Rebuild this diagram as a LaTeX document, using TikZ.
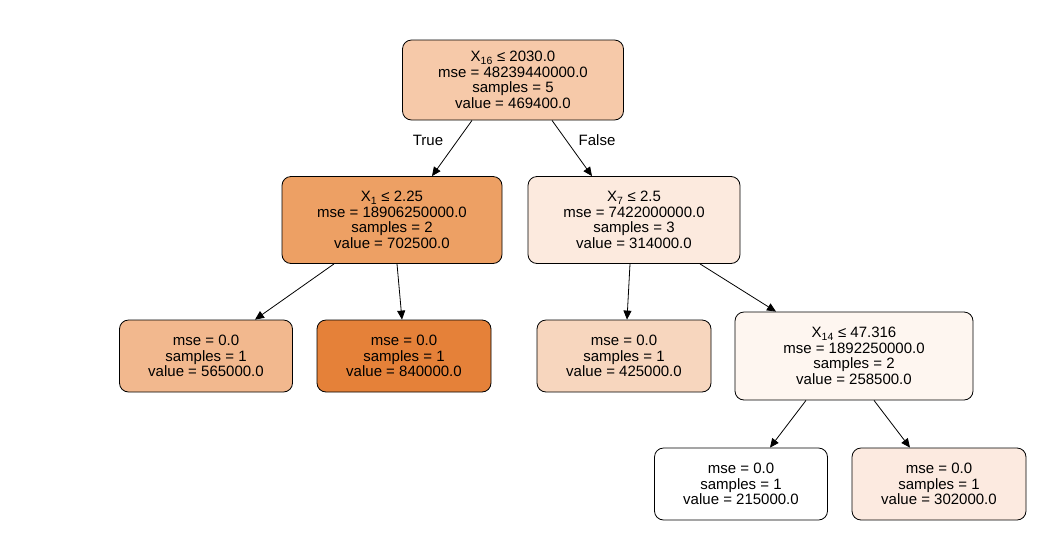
\documentclass[tikz,border=0pt]{standalone}
\usepackage{fontspec}
\usetikzlibrary{arrows.meta}
\setmainfont{Liberation Sans}
\begin{document}
\begin{tikzpicture}[x=1pt,y=-1pt,
  n/.style={draw=black,rounded corners=9pt,line width=0.8pt,align=center,font=\fontsize{15}{15.5}\selectfont,inner sep=0pt,minimum height=#1},
  e/.style={-{Triangle[length=9pt,width=8pt]},line width=0.8pt},
  lab/.style={font=\fontsize{15}{16}\selectfont}]
\useasboundingbox (0,0) rectangle (1045,539);
\node[n=80pt,fill={rgb,255:red,246;green,201;blue,169},minimum width=221pt] (r) at (513,80) {X\textsubscript{16} ≤ 2030.0\\mse = 48239440000.0\\samples = 5\\value = 469400.0};
\node[n=87pt,fill={rgb,255:red,237;green,160;blue,100},minimum width=220pt] (a) at (392,220) {X\textsubscript{1} ≤ 2.25\\mse = 18906250000.0\\samples = 2\\value = 702500.0};
\node[n=87pt,fill={rgb,255:red,252;green,234;blue,222},minimum width=212pt] (b) at (634,220) {X\textsubscript{7} ≤ 2.5\\mse = 7422000000.0\\samples = 3\\value = 314000.0};
\node[n=72pt,fill={rgb,255:red,242;green,184;blue,142},minimum width=173pt] (l1) at (206,356) {mse = 0.0\\samples = 1\\value = 565000.0};
\node[n=72pt,fill={rgb,255:red,229;green,129;blue,57},minimum width=174pt] (l2) at (404,356) {mse = 0.0\\samples = 1\\value = 840000.0};
\node[n=72pt,fill={rgb,255:red,247;green,214;blue,190},minimum width=174pt] (l3) at (624,356) {mse = 0.0\\samples = 1\\value = 425000.0};
\node[n=88pt,fill={rgb,255:red,254;green,246;blue,240},minimum width=238pt] (c) at (854,356) {X\textsubscript{14} ≤ 47.316\\mse = 1892250000.0\\samples = 2\\value = 258500.0};
\node[n=72pt,fill=white,minimum width=173pt] (l4) at (741,484) {mse = 0.0\\samples = 1\\value = 215000.0};
\node[n=72pt,fill={rgb,255:red,252;green,234;blue,224},minimum width=174pt] (l5) at (939,484) {mse = 0.0\\samples = 1\\value = 302000.0};
\draw[e] (r.south -| 472,0) -- (a.north -| 432,0);
\draw[e] (r.south -| 552,0) -- (b.north -| 592,0);
\draw[e] (a.south -| 334,0) -- (l1.north -| 255,0);
\draw[e] (a.south -| 397,0) -- (l2.north -| 402,0);
\draw[e] (b.south -| 630,0) -- (l3.north -| 627,0);
\draw[e] (b.south -| 700,0) -- (c.north -| 776,0);
\draw[e] (c.south -| 806,0) -- (l4.north -| 770,0);
\draw[e] (c.south -| 874,0) -- (l5.north -| 910,0);
\node[lab] (t) at (428,140) {True};
\node[lab] (f) at (597,140) {False};
\end{tikzpicture}
\end{document}
